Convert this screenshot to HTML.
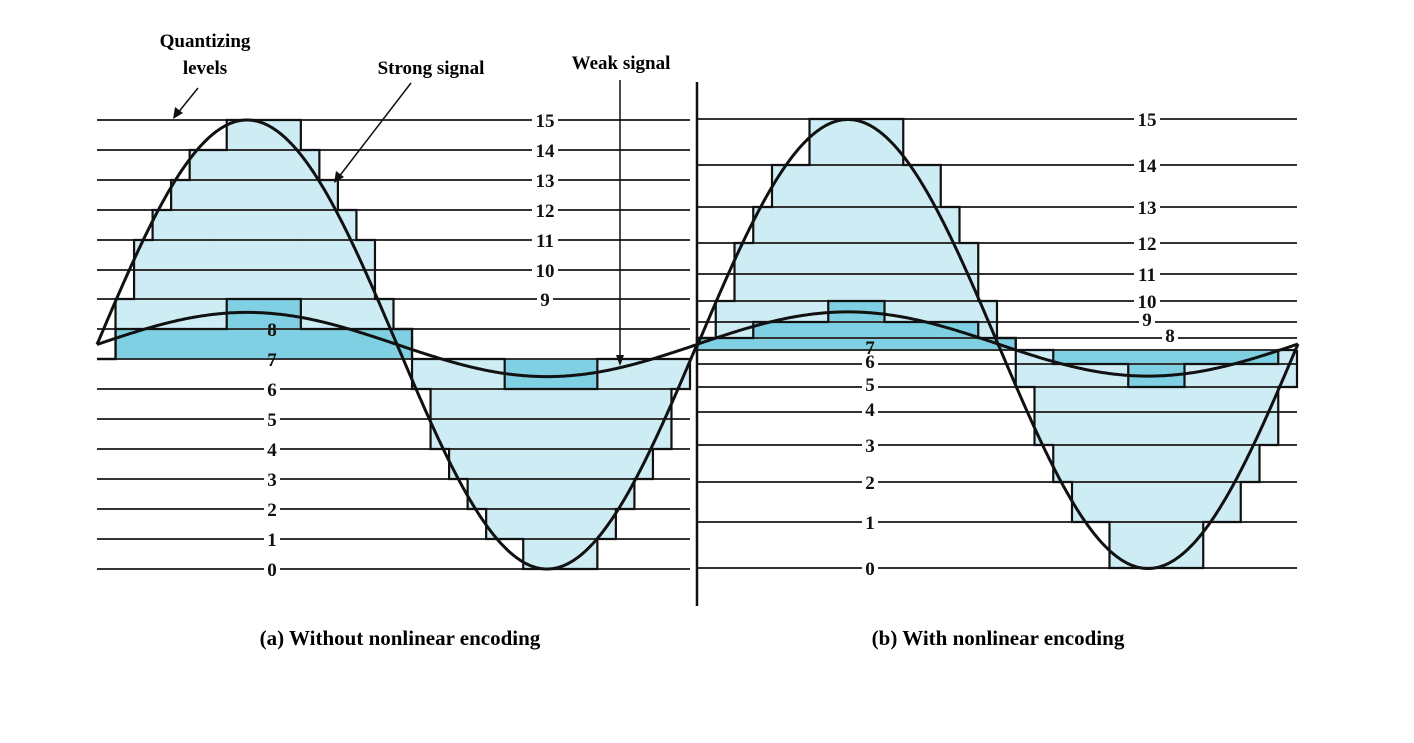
<!DOCTYPE html>
<html><head><meta charset="utf-8">
<style>
html,body{margin:0;padding:0;background:#fff;}
svg{display:block;font-family:"Liberation Serif",serif;font-weight:bold;}
</style></head>
<body>
<svg id="fig" width="1414" height="743" viewBox="0 0 1414 743">
<g id="layer-fill"></g>
<g id="layer-weak"></g>
<g id="layer-lines"></g>
<g id="layer-outline"></g>
<g id="layer-curves"></g>
<g id="layer-labels"></g>
<line x1="697" y1="82" x2="697" y2="606" stroke="#111" stroke-width="2.5"/>
<g>
<text x="205" y="47" font-size="19" text-anchor="middle">Quantizing</text>
<text x="205" y="74" font-size="19" text-anchor="middle">levels</text>
<line x1="198" y1="88" x2="177" y2="114" stroke="#111" stroke-width="1.5"/>
<polygon points="173,119 175,107 183,113" fill="#111"/>
<text x="431" y="74" font-size="19" text-anchor="middle">Strong signal</text>
<line x1="411" y1="83" x2="338" y2="178" stroke="#111" stroke-width="1.5"/>
<polygon points="334,183 336,171 344,177" fill="#111"/>
<text x="621" y="69" font-size="19" text-anchor="middle">Weak signal</text>
<line x1="620" y1="80" x2="620" y2="360" stroke="#111" stroke-width="1.5"/>
<polygon points="620,366 616,355 624,355" fill="#111"/>
<text x="400" y="645" font-size="21" text-anchor="middle">(a) Without nonlinear encoding</text>
<text x="998" y="645" font-size="21" text-anchor="middle">(b) With nonlinear encoding</text>
</g>
</svg>
<script>
// level y positions (pixel axis mapping) per panel
const levelsA = [569,539,509,479,449,419,389,359,329,299,270,240,210,180,150,120];
const levelsB = [568,522,482,445,412,387,364,350,338,322,301,274,243,207,165,119];
// quantized codes per sample (32 samples per panel)
const strongA = [7,9,11,12,13,14,14,15,15,15,15,14,13,12,11,9,8,6,4,3,2,1,1,0,0,0,0,1,2,3,4,6];
const weakA   = [7,8,8,8,8,8,8,9,9,9,9,8,8,8,8,8,8,7,7,7,7,7,6,6,6,6,6,7,7,7,7,7];
const strongB = [8,10,12,13,14,14,15,15,15,15,15,14,14,13,12,10,8,5,3,2,1,1,0,0,0,0,0,1,1,2,3,5];
const weakB   = [8,8,8,9,9,9,9,10,10,10,9,9,9,9,9,8,8,7,7,6,6,6,6,5,5,5,6,6,6,6,6,7];
// signal amplitudes (fraction of full scale): strong, weak
const amplitudes = [1.0, 0.143];
const labelsA = ["0","1","2","3","4","5","6","7","8","9","10","11","12","13","14","15"];
const NS="http://www.w3.org/2000/svg";
function mk(tag, attrs, parent){const e=document.createElementNS(NS,tag);for(const k in attrs)e.setAttribute(k,attrs[k]);parent.appendChild(e);return e;}
const panels=[
 {x0:97,x1:690,cEnd:696,lv:levelsA,strong:strongA,weak:weakA,lx0:272,lxHi:545,split:9,cy:344.5,per:600,cx0:97,name:'a'},
 {x0:697,x1:1297,cEnd:1298,lv:levelsB,strong:strongB,weak:weakB,lx0:870,lxHi:1147,split:8,cy:344,per:600,cx0:698,name:'b'}
];
const gF=document.getElementById('layer-fill'),gL=document.getElementById('layer-lines'),gW=document.getElementById('layer-weak'),gO=document.getElementById('layer-outline'),gC=document.getElementById('layer-curves'),gT=document.getElementById('layer-labels');
panels.forEach(p=>{
 const base=p.lv[7];
 const xs=i=>p.x0+i*(p.x1-p.x0)/32;
 function fills(codes,g,color,kind){
  codes.forEach((q,i)=>{
   if(q===7)return;
   const y1=Math.min(base,p.lv[q]),y2=Math.max(base,p.lv[q]);
   const r=mk('rect',{x:xs(i),y:y1,width:xs(i+1)-xs(i)+0.5,height:y2-y1,fill:color},g);
   
   
  });
 }
 function outline(codes,kind){
  let d='M'+xs(0)+' '+base+'L'+xs(0)+' '+p.lv[codes[0]];
  codes.forEach((q,i)=>{
   if(i>0)d+='L'+xs(i)+' '+p.lv[q];
   d+='L'+xs(i+1)+' '+p.lv[q];
  });
  d+='L'+xs(32)+' '+base;
  const o=mk('path',{d:d,fill:'none',stroke:'#111','stroke-width':2.2,'stroke-linejoin':'miter'},gO);
  
  
 }
 fills(p.strong,gF,'#cdecf4','strong');
 fills(p.weak,gW,'#7fd0e3','weak');
 p.lv.forEach((y,k)=>{
  const l=mk('line',{x1:p.x0,y1:y,x2:p.x1,y2:y,stroke:'#333','stroke-width':2},gL);
  
  
 });
 outline(p.strong,'strong');
 outline(p.weak,'weak');
 const fullAmp=(p.lv[0]-p.lv[15])/2;
 amplitudes.forEach((a,j)=>{
  let d='';
  for(let x=p.x0;x<=p.cEnd;x+=1){const y=p.cy-a*fullAmp*Math.sin(2*Math.PI*(x-p.cx0)/p.per);d+=(d?'L':'M')+x+' '+y.toFixed(1);}
  const c=mk('path',{d:d,fill:'none',stroke:'#111','stroke-width':3},gC);
  
  
 });
 labelsA.forEach((t,k)=>{
  let x=k>=p.split?p.lxHi:p.lx0;
  if(p.name==='b'&&k===8)x=1170;
  const y=p.lv[k];
  const onFill=(p.name==='a'&&(k===7||k===8))||(p.name==='b'&&k===7);
  const dy=(p.name==='b'&&(k>=4&&k<=9))?4:7;
  if(!onFill){mk('rect',{x:x-(t.length>1?13:8),y:y-3,width:t.length>1?26:16,height:6,fill:'#fff'},gT);}
  const tx=mk('text',{x:x,y:y+dy,'font-size':19,'text-anchor':'middle',fill:'#111'},gT);
  tx.textContent=t;
  
  
 });
});
</script>
</body></html>
